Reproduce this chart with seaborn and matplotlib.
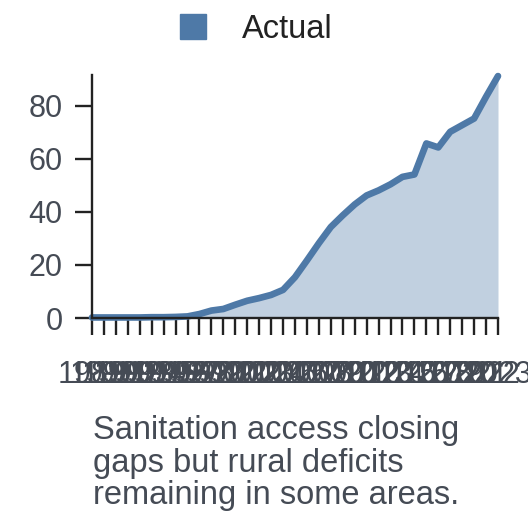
import matplotlib
matplotlib.use('Agg')
import matplotlib.pyplot as plt
from matplotlib.patches import Patch
import seaborn as sns
import pandas as pd

sns.set_theme(style='white')
plt.rcParams['font.family'] = ['Liberation Sans', 'DejaVu Sans']

years = list(range(1989, 2024))
actual = [0.2, 0.2, 0.2, 0.2, 0.2, 0.3, 0.3, 0.4, 0.6, 1.5, 2.8, 3.4, 5.0, 6.5,
          7.5, 8.7, 10.6, 15.4, 21.7, 28.2, 34.3, 38.7, 42.8, 46.2, 48.1, 50.4,
          53.2, 54.1, 65.8, 64.3, 70.2, 72.7, 75.2, 83.4, 91.2]
caption = "Sanitation access closing\ngaps but rural deficits\nremaining in some areas."

df = pd.DataFrame({'year': years, 'value': actual})

blue = '#4e79a7'
text_col = '#454b55'
axis_col = '#222222'

fig = plt.figure(figsize=(5.28, 5.28), dpi=100)
ax = fig.add_axes([92 / 528, 1 - 318 / 528, 406 / 528, 243 / 528])

ax.fill_between(df['year'], df['value'], 0, color=blue, alpha=0.35, lw=0)
sns.lineplot(data=df, x='year', y='value', color=blue, linewidth=4.8, ax=ax,
             legend=False, clip_on=False)

ax.set_xlim(years[0], years[-1])
ax.set_ylim(0, 91.6)
ax.set_xticks(years)
ax.set_xticklabels([str(y) for y in years])
ax.set_yticks([0, 20, 40, 60, 80])
ax.set_xlabel('')
ax.set_ylabel('')

for side in ['top', 'right']:
    ax.spines[side].set_visible(False)
for side in ['left', 'bottom']:
    ax.spines[side].set_color(axis_col)
    ax.spines[side].set_linewidth(1.7)

ax.tick_params(axis='both', which='major', length=12, width=1.7,
               color=axis_col, labelcolor=text_col, labelsize=22,
               bottom=True, left=True)
ax.tick_params(axis='x', pad=18)
ax.tick_params(axis='y', pad=9)

handle = Patch(facecolor=blue, edgecolor=blue, label='Actual')
fig.legend(handles=[handle], loc='center', bbox_to_anchor=(0.486, 0.945),
           frameon=False, fontsize=23.5, handlelength=0.8, handleheight=0.8,
           handletextpad=1.1, labelcolor='#222222')

fig.text(93 / 528, 1 - 415 / 528, caption, ha='left', va='top',
         fontsize=23.5, color=text_col, linespacing=1.07)

fig.savefig('out.png', dpi=100)
